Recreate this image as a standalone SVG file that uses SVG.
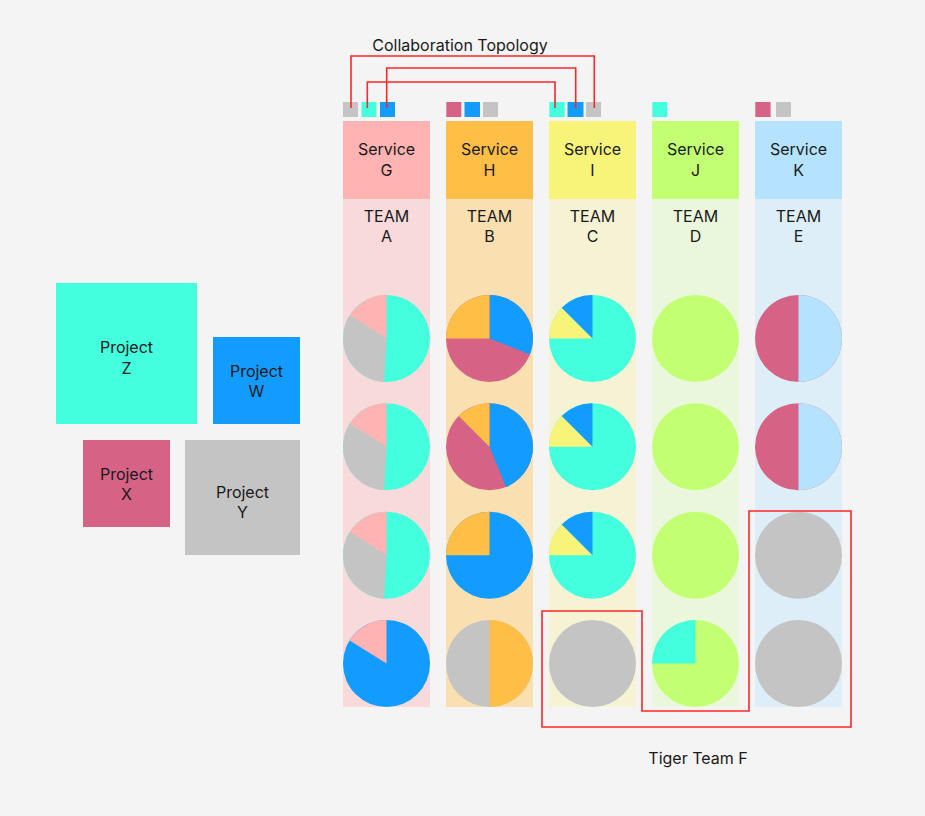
<svg xmlns="http://www.w3.org/2000/svg" xmlns:xlink="http://www.w3.org/1999/xlink" width="925" height="816" viewBox="0 0 925 816">
<style>
text{font-family:Inter,"Noto Sans","Liberation Sans",sans-serif;fill:#1a1a1a;text-anchor:middle;font-size:16px}
.red{fill:none;stroke:#ff2626;stroke-width:1.6}
.cy{fill:#44ffdd}.bl{fill:#129cff}.gr{fill:#c4c4c4}.mg{fill:#d66386}
.pk{fill:#ffb3b3}.or{fill:#ffbf47}.ye{fill:#f8f47a}.lg{fill:#c3ff73}.lb{fill:#b5e3ff}
</style>
<defs>
<g id="pieA"><circle r="43.5" class="cy"/><path class="gr" d="M0 0L-2.28 43.44A43.5 43.5 0 0 1 -36.89 -23.05Z"/><path class="pk" d="M0 0L-36.89 -23.05A43.5 43.5 0 0 1 0 -43.5Z"/></g>
<g id="pieA4"><circle r="43.5" class="bl"/><path class="pk" d="M0 0L-36.89 -23.05A43.5 43.5 0 0 1 0 -43.5Z"/></g>
<g id="pieB1"><circle r="43.5" class="mg"/><path class="bl" d="M0 0L0 -43.5A43.5 43.5 0 0 1 40.47 15.94Z"/><path class="or" d="M0 0L-43.5 0A43.5 43.5 0 0 1 0 -43.5Z"/></g>
<g id="pieB2"><circle r="43.5" class="mg"/><path class="bl" d="M0 0L0 -43.5A43.5 43.5 0 0 1 16.58 40.22Z"/><path class="or" d="M0 0L-30.76 -30.76A43.5 43.5 0 0 1 0 -43.5Z"/></g>
<g id="pieB3"><circle r="43.5" class="bl"/><path class="or" d="M0 0L-43.5 0A43.5 43.5 0 0 1 0 -43.5Z"/></g>
<g id="pieB4"><circle r="43.5" class="gr"/><path class="or" d="M0 -43.5A43.5 43.5 0 0 1 0 43.5Z"/></g>
<g id="pieC"><circle r="43.5" class="cy"/><path class="ye" d="M0 0L-43.5 0A43.5 43.5 0 0 1 -30.76 -30.76Z"/><path class="bl" d="M0 0L-30.76 -30.76A43.5 43.5 0 0 1 0 -43.5Z"/></g>
<g id="pieG"><circle r="43.5" class="gr"/></g>
<g id="pieD"><circle r="43.5" class="lg"/></g>
<g id="pieD4"><circle r="43.5" class="lg"/><path class="cy" d="M0 0L-43.5 0A43.5 43.5 0 0 1 0 -43.5Z"/></g>
<g id="pieE"><circle r="43.5" class="mg"/><path class="lb" d="M0 -43.5A43.5 43.5 0 0 1 0 43.5Z"/></g>
</defs>
<rect width="925" height="816" fill="#f4f4f4"/>

<text x="460" y="51">Collaboration Topology</text>

<g id="projects">
<g id="project-z"><rect x="56" y="283" width="141" height="141" class="cy"/><text x="126.5" y="353">Project</text><text x="126.5" y="374">Z</text></g>
<g id="project-w"><rect x="213" y="337" width="87" height="87" class="bl"/><text x="256.5" y="376.5">Project</text><text x="256.5" y="397">W</text></g>
<g id="project-x"><rect x="83" y="440" width="87" height="87" class="mg"/><text x="126.5" y="479.5">Project</text><text x="126.5" y="500">X</text></g>
<g id="project-y"><rect x="185" y="440" width="115" height="115" class="gr"/><text x="242.5" y="497.5">Project</text><text x="242.5" y="518">Y</text></g>
</g>

<g id="team-a">
<rect x="343" y="199" width="87" height="508" fill="#f8dadb"/>
<rect x="343" y="121" width="87" height="78" class="pk"/>
<text x="386.5" y="155">Service</text><text x="386.5" y="176">G</text>
<text x="386.5" y="222">TEAM</text><text x="386.5" y="242">A</text>
<rect x="343" y="102" width="15" height="15" class="gr"/>
<rect x="361.5" y="102" width="15" height="15" class="cy"/>
<rect x="380" y="102" width="15" height="15" class="bl"/>
<use xlink:href="#pieA" x="386.5" y="338.5"/>
<use xlink:href="#pieA" x="386.5" y="446.8"/>
<use xlink:href="#pieA" x="386.5" y="555.2"/>
<use xlink:href="#pieA4" x="386.5" y="663.5"/>
</g>

<g id="team-b">
<rect x="446" y="199" width="87" height="508" fill="#fae0b0"/>
<rect x="446" y="121" width="87" height="78" class="or"/>
<text x="489.5" y="155">Service</text><text x="489.5" y="176">H</text>
<text x="489.5" y="222">TEAM</text><text x="489.5" y="242">B</text>
<rect x="446.3" y="102" width="15" height="15" class="mg"/>
<rect x="464.5" y="102" width="15.5" height="15" class="bl"/>
<rect x="483" y="102" width="15" height="15" class="gr"/>
<use xlink:href="#pieB1" x="489.5" y="338.5"/>
<use xlink:href="#pieB2" x="489.5" y="446.8"/>
<use xlink:href="#pieB3" x="489.5" y="555.2"/>
<use xlink:href="#pieB4" x="489.5" y="663.5"/>
</g>

<g id="team-c">
<rect x="549" y="199" width="87" height="508" fill="#f6f3d5"/>
<rect x="549" y="121" width="87" height="78" class="ye"/>
<text x="592.5" y="155">Service</text><text x="592.5" y="176">I</text>
<text x="592.5" y="222">TEAM</text><text x="592.5" y="242">C</text>
<rect x="549.3" y="102" width="15.3" height="15" class="cy"/>
<rect x="567.5" y="102" width="16" height="15" class="bl"/>
<rect x="586" y="102" width="15" height="15" class="gr"/>
<use xlink:href="#pieC" x="592.5" y="338.5"/>
<use xlink:href="#pieC" x="592.5" y="446.8"/>
<use xlink:href="#pieC" x="592.5" y="555.2"/>
<use xlink:href="#pieG" x="592.5" y="663.5"/>
</g>

<g id="team-d">
<rect x="652" y="199" width="87" height="508" fill="#ebf7dd"/>
<rect x="652" y="121" width="87" height="78" class="lg"/>
<text x="695.5" y="155">Service</text><text x="695.5" y="176">J</text>
<text x="695.5" y="222">TEAM</text><text x="695.5" y="242">D</text>
<rect x="652.3" y="102" width="15" height="15" class="cy"/>
<use xlink:href="#pieD" x="695.5" y="338.5"/>
<use xlink:href="#pieD" x="695.5" y="446.8"/>
<use xlink:href="#pieD" x="695.5" y="555.2"/>
<use xlink:href="#pieD4" x="695.5" y="663.5"/>
</g>

<g id="team-e">
<rect x="755" y="199" width="87" height="508" fill="#ddeef9"/>
<rect x="755" y="121" width="87" height="78" class="lb"/>
<text x="798.5" y="155">Service</text><text x="798.5" y="176">K</text>
<text x="798.5" y="222">TEAM</text><text x="798.5" y="242">E</text>
<rect x="755.3" y="102" width="15.3" height="15" class="mg"/>
<rect x="776" y="102" width="15" height="15" class="gr"/>
<use xlink:href="#pieE" x="798.5" y="338.5"/>
<use xlink:href="#pieE" x="798.5" y="446.8"/>
<use xlink:href="#pieG" x="798.5" y="555.2"/>
<use xlink:href="#pieG" x="798.5" y="663.5"/>
</g>

<g id="connectors">
<path class="red" d="M351 108V56H594.3V108"/>
<path class="red" d="M386.7 108V68H575.7V108"/>
<path class="red" d="M367.3 108V82H555V108"/>
</g>

<g id="tiger-team-f">
<path class="red" d="M542 611H642V711H749V511H851V727H542Z"/>
<text x="698" y="764">Tiger Team F</text>
</g>
</svg>
